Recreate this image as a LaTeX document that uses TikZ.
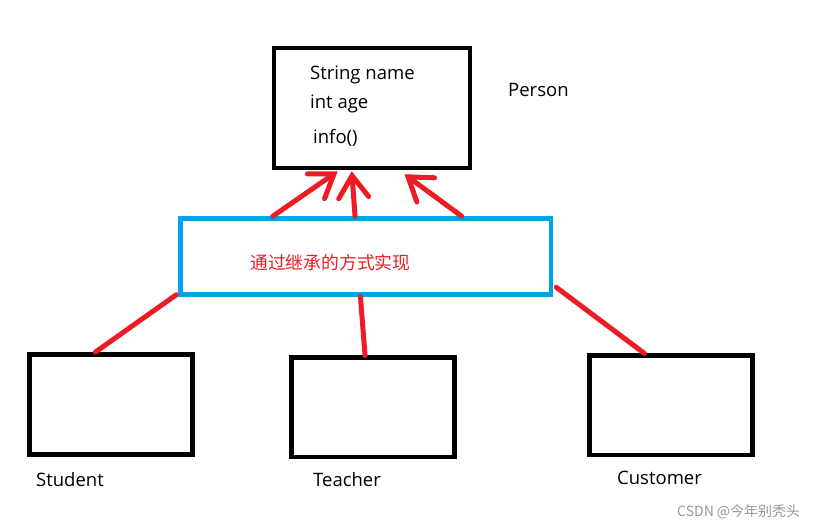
\documentclass[tikz,border=0pt]{standalone}
\usepackage{fontspec}
\setmainfont{Open Sans}
\newfontfamily\cjk{Noto Sans CJK SC}
\usetikzlibrary{arrows.meta}
\definecolor{pred}{RGB}{237,28,36}
\definecolor{pblue}{RGB}{0,162,232}
\definecolor{wmgray}{RGB}{150,150,150}
\tikzset{
  classbox/.style={draw=black, line width=4.5pt, inner sep=0pt, fill=none},
  groupbox/.style={draw=pblue, line width=4.5pt, inner sep=0pt},
  link/.style={draw=pred, line width=5pt, line cap=round},
  inherit/.style={draw=pred, line width=5pt, line cap=round, -{Straight Barb[length=22pt,width=30pt,line cap=round]}},
  lbl/.style={anchor=base west, inner sep=0pt, font=\fontsize{18.5}{21}\selectfont},
}
\begin{document}
\begin{tikzpicture}[x=1pt,y=-1pt]
\useasboundingbox (0,0) rectangle (821,528);
% boxes
\node[classbox, minimum width=196pt, minimum height=120pt] (person) at (372,108) {};
\node[groupbox, minimum width=370.5pt, minimum height=76pt] (blue) at (365.75,256.5) {};
\node[classbox, minimum width=162.6pt, minimum height=100pt] (student) at (111,404.3) {};
\node[classbox, minimum width=162.6pt, minimum height=99.3pt] (teacher) at (373,407.35) {};
\node[classbox, minimum width=162.6pt, minimum height=99.3pt] (customer) at (671,405.35) {};
% texts
\node[lbl] (f1) at (310,79.3) {String name};
\node[lbl] (f2) at (310,108.3) {int age};
\node[lbl] (f3) at (313,143.5) {info()};
\node[lbl] (pname) at (508,96) {Person};
\node[lbl] (sname) at (36,486) {Student};
\node[lbl] (tname) at (313,486.5) {Teacher};
\node[lbl] (cname) at (617,484) {Customer};
\node[anchor=base west, inner sep=0pt, text=pred, font=\cjk\fontsize{17.8}{20}\selectfont] (note) at (250,269.5) {通过继承的方式实现};
\node[anchor=base west, inner sep=0pt, text=wmgray, font=\cjk\fontsize{14}{16}\selectfont] (wm) at (677,516) {CSDN @今年别秃头};
% lower links
\draw[link] ([xshift=68pt]student.north west) -- ([xshift=-2pt,yshift=2pt]blue.south west);
\draw[link] ([xshift=75.6pt]teacher.north west) -- ([xshift=182.2pt]blue.south west);
\draw[link] ([xshift=57pt]customer.north west) -- ([xshift=3pt,yshift=9.5pt]blue.south east);
% inheritance arrows
\coordinate (a1) at ([xshift=94.5pt]blue.north west);
\coordinate (a2) at ([xshift=176.8pt]blue.north west);
\coordinate (a3) at ([xshift=283.5pt]blue.north west);
\coordinate (t1) at ([xshift=66pt,yshift=-1pt]person.south west);
\coordinate (t2) at ([xshift=80pt,yshift=-1pt]person.south west);
\coordinate (t3) at ([xshift=132.7pt,yshift=-4pt]person.south west);
\draw[inherit] (a1) -- (t1);
\draw[inherit] (a2) -- (t2);
\draw[inherit] (a3) -- (t3);
\end{tikzpicture}
\end{document}
